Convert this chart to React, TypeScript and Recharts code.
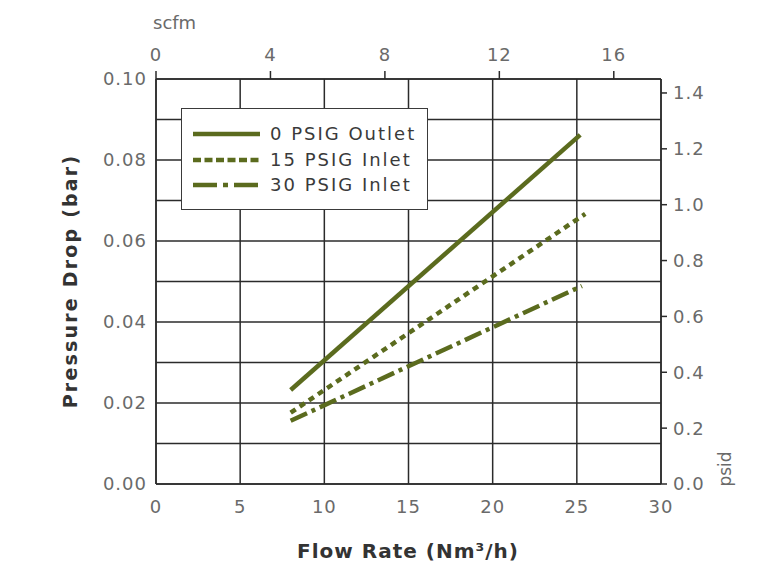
import React from 'react';
import { LineChart, Line, XAxis, YAxis, CartesianGrid, Legend, Label } from 'recharts';

// ---- data ----
const seriesNames = ['0 PSIG Outlet', '15 PSIG Inlet', '30 PSIG Inlet'];
const outletFlow = [8.0, 25.2];
const outletDrop = [0.0232, 0.0862];
const inlet15Flow = [8.0, 25.5];
const inlet15Drop = [0.0176, 0.0667];
const inlet30Flow = [8.0, 25.3];
const inlet30Drop = [0.0156, 0.0489];

const flowTicks = [0, 5, 10, 15, 20, 25, 30];
const barTicks = [0, 0.01, 0.02, 0.03, 0.04, 0.05, 0.06, 0.07, 0.08, 0.09, 0.1];
const psiTicks = [0, 0.2, 0.4, 0.6, 0.8, 1.0, 1.2, 1.4];
const scfmTicks = [0, 4, 8, 12, 16];

const toRows = (xs: number[], ys: number[]) => xs.map((x, i) => ({ flow: x, drop: ys[i] }));
const outletData = toRows(outletFlow, outletDrop);
const inlet15Data = toRows(inlet15Flow, inlet15Drop);
const inlet30Data = toRows(inlet30Flow, inlet30Drop);

const OLIVE = '#5b6b1e';
const GRID = '#2b2b2b';
const TICK = '#6a6a6a';
const FONT = '"DejaVu Sans", sans-serif';

const dashes = ['', '6 5', '18 5 4 5'];
const legendDashes = ['', '8 3.5', '24 6 5 6'];

const tickStyle = { fill: TICK, fontSize: 18, fontFamily: FONT, letterSpacing: 1 };

const renderLegend = () => (
  <div
    style={{
      position: 'relative',
      width: 247,
      height: 102,
      boxSizing: 'border-box',
      border: '1.5px solid #3a3a3a',
      background: '#fff',
      fontFamily: FONT,
    }}
  >
    {seriesNames.map((name, i) => (
      <div key={name} style={{ position: 'absolute', left: 0, top: [25, 51, 76][i] - 12, height: 24, width: 245 }}>
        <svg width={70} height={24} style={{ position: 'absolute', left: 10, top: 0 }}>
          <line x1={1} y1={12} x2={68} y2={12} stroke={OLIVE} strokeWidth={4.5} strokeDasharray={legendDashes[i]} />
        </svg>
        <span
          style={{
            position: 'absolute',
            left: 88,
            top: 0,
            lineHeight: '24px',
            fontSize: 18,
            color: '#3a3a3a',
            letterSpacing: 2,
            whiteSpace: 'nowrap',
          }}
        >
          {name}
        </span>
      </div>
    ))}
  </div>
);

export default function App() {
  return (
    <div style={{ position: 'absolute', left: 0, top: 0, background: '#fff' }}>
      <LineChart width={774} height={572} margin={{ top: 0, right: 0, bottom: 0, left: 0 }}>
        <CartesianGrid xAxisId="bottom" yAxisId="left" stroke={GRID} strokeWidth={1.5} />
        <XAxis
          xAxisId="bottom"
          dataKey="flow"
          type="number"
          domain={[0, 30]}
          ticks={flowTicks}
          height={88}
          tickSize={0}
          tickMargin={16}
          axisLine={{ stroke: GRID, strokeWidth: 1.5 }}
          tick={tickStyle}
          allowDataOverflow
        >
          <Label
            content={() => (
              <text x={408} y={558} textAnchor="middle" fontFamily={FONT} fontWeight="bold" fontSize={20} fill="#333" letterSpacing={1}>
                Flow Rate (Nm³/h)
              </text>
            )}
          />
        </XAxis>
        <XAxis
          xAxisId="top"
          orientation="top"
          dataKey="scfm"
          type="number"
          domain={[0, 17.65]}
          ticks={scfmTicks}
          height={79}
          tickSize={8}
          tickMargin={10}
          axisLine={{ stroke: GRID, strokeWidth: 1.5 }}
          tickLine={{ stroke: GRID, strokeWidth: 1.5 }}
          tick={tickStyle}
          allowDataOverflow
        >
          <Label
            content={() => (
              <text x={153} y={29} textAnchor="start" fontFamily={FONT} fontSize={18} fill={TICK}>
                scfm
              </text>
            )}
          />
        </XAxis>
        <YAxis
          yAxisId="left"
          type="number"
          domain={[0, 0.1]}
          ticks={barTicks}
          width={156}
          tickSize={0}
          tickMargin={9}
          interval={0}
          axisLine={{ stroke: GRID, strokeWidth: 1.5 }}
          tick={tickStyle}
          tickFormatter={(v: number) => (Math.round(v * 100) % 2 === 0 ? v.toFixed(2) : '')}
          allowDataOverflow
        >
          <Label
            content={() => (
              <text
                x={70}
                y={281}
                transform="rotate(-90 70 281)"
                textAnchor="middle"
                dominantBaseline="central"
                fontFamily={FONT}
                fontWeight="bold"
                fontSize={19}
                fill="#333"
                letterSpacing={2.2}
              >
                Pressure Drop (bar)
              </text>
            )}
          />
        </YAxis>
        <YAxis
          yAxisId="right"
          orientation="right"
          type="number"
          domain={[0, 1.45]}
          ticks={psiTicks}
          width={113}
          tickSize={6}
          tickMargin={6}
          interval={0}
          axisLine={{ stroke: GRID, strokeWidth: 1.5 }}
          tickLine={{ stroke: GRID, strokeWidth: 1.5 }}
          tick={tickStyle}
          tickFormatter={(v: number) => v.toFixed(1)}
          allowDataOverflow
        >
          <Label
            content={() => (
              <text
                x={725}
                y={469}
                transform="rotate(-90 725 469)"
                textAnchor="middle"
                dominantBaseline="central"
                fontFamily={FONT}
                fontSize={17}
                fill={TICK}
              >
                psid
              </text>
            )}
          />
        </YAxis>
        <Legend
          layout="vertical"
          align="center"
          verticalAlign="middle"
          content={renderLegend}
          wrapperStyle={{ position: 'absolute', left: 181, top: 108, width: 247, height: 102 }}
        />
        <Line
          xAxisId="bottom"
          yAxisId="left"
          data={outletData}
          dataKey="drop"
          name={seriesNames[0]}
          type="linear"
          stroke={OLIVE}
          strokeWidth={4.5}
          dot={false}
          isAnimationActive={false}
        />
        <Line
          xAxisId="bottom"
          yAxisId="left"
          data={inlet15Data}
          dataKey="drop"
          name={seriesNames[1]}
          type="linear"
          stroke={OLIVE}
          strokeWidth={4.5}
          strokeDasharray={dashes[1]}
          dot={false}
          isAnimationActive={false}
        />
        <Line
          xAxisId="bottom"
          yAxisId="left"
          data={inlet30Data}
          dataKey="drop"
          name={seriesNames[2]}
          type="linear"
          stroke={OLIVE}
          strokeWidth={4.5}
          strokeDasharray={dashes[2]}
          dot={false}
          isAnimationActive={false}
        />
      </LineChart>
    </div>
  );
}
